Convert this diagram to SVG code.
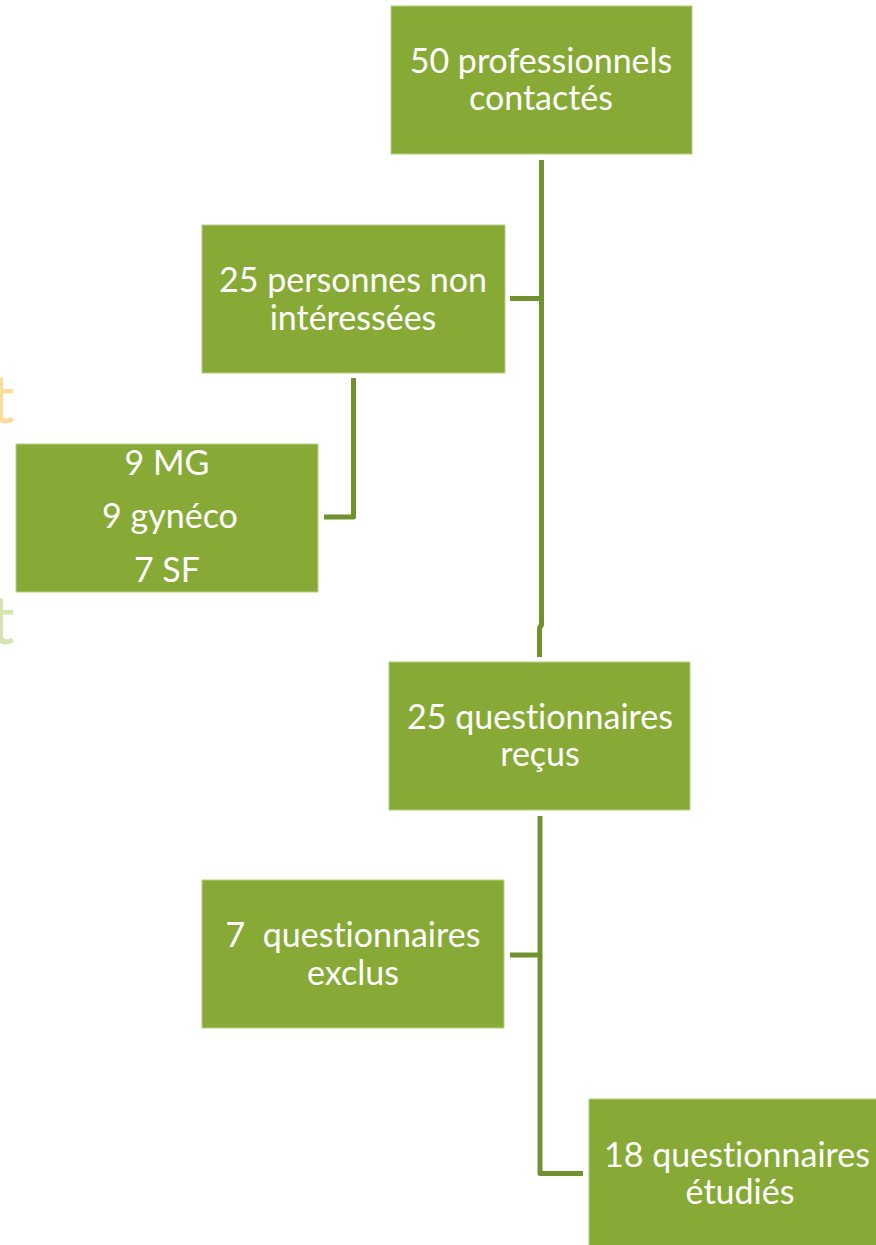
<svg xmlns="http://www.w3.org/2000/svg" width="876" height="1245" viewBox="0 0 876 1245">
<style>
.box{fill:#86AA35;stroke:#B9CF85;stroke-width:1}
.lbl{font-family:Lato,"Open Sans","Liberation Sans",sans-serif;font-size:34px;fill:#FFFFFF;text-anchor:middle;white-space:pre;font-variant-ligatures:none;font-feature-settings:"liga" 0,"clig" 0}
.conn{fill:none;stroke:#71932F;stroke-width:5;stroke-linejoin:round}
.ghost{font-family:Lato,"Open Sans","Liberation Sans",sans-serif;font-size:68px}
</style>
<rect width="876" height="1245" fill="#FFFFFF"/>
<text class="ghost" x="-10" y="423" fill="#FDDB9A">t</text>
<text class="ghost" x="-10" y="644" fill="#D5E5AF">t</text>
<g id="connectors">
<path class="conn" d="M541.5 160 V625 L539.5 628 V657"/>
<path class="conn" d="M510 298.5 H541.5"/>
<path class="conn" d="M353.5 378 V517 H324"/>
<path class="conn" d="M540 816 V1173.5 H583"/>
<path class="conn" d="M510 955 H540"/>
</g>
<g id="n1">
<rect class="box" x="391" y="6" width="301" height="148"/>
<text class="lbl" x="541" y="73">50 professionnels</text>
<text class="lbl" x="541" y="110">contactés</text>
</g>
<g id="n2">
<rect class="box" x="202" y="225" width="303" height="148"/>
<text class="lbl" x="353" y="292">25 personnes non</text>
<text class="lbl" x="353" y="330">intéressées</text>
</g>
<g id="n3">
<rect class="box" x="16" y="444" width="302" height="148"/>
<text class="lbl" x="167" y="475">9 MG</text>
<text class="lbl" x="170" y="528">9 gynéco</text>
<text class="lbl" x="167" y="582">7 SF</text>
</g>
<g id="n4">
<rect class="box" x="389" y="662" width="301" height="148"/>
<text class="lbl" x="540" y="729">25 questionnaires</text>
<text class="lbl" x="540" y="766">reçus</text>
</g>
<g id="n5">
<rect class="box" x="202" y="880" width="302" height="148"/>
<text class="lbl" x="353" y="947">7  questionnaires</text>
<text class="lbl" x="353" y="985">exclus</text>
</g>
<g id="n6">
<rect class="box" x="589" y="1099" width="302" height="148"/>
<text class="lbl" x="737" y="1167">18 questionnaires</text>
<text class="lbl" x="740" y="1204">étudiés</text>
</g>
</svg>
